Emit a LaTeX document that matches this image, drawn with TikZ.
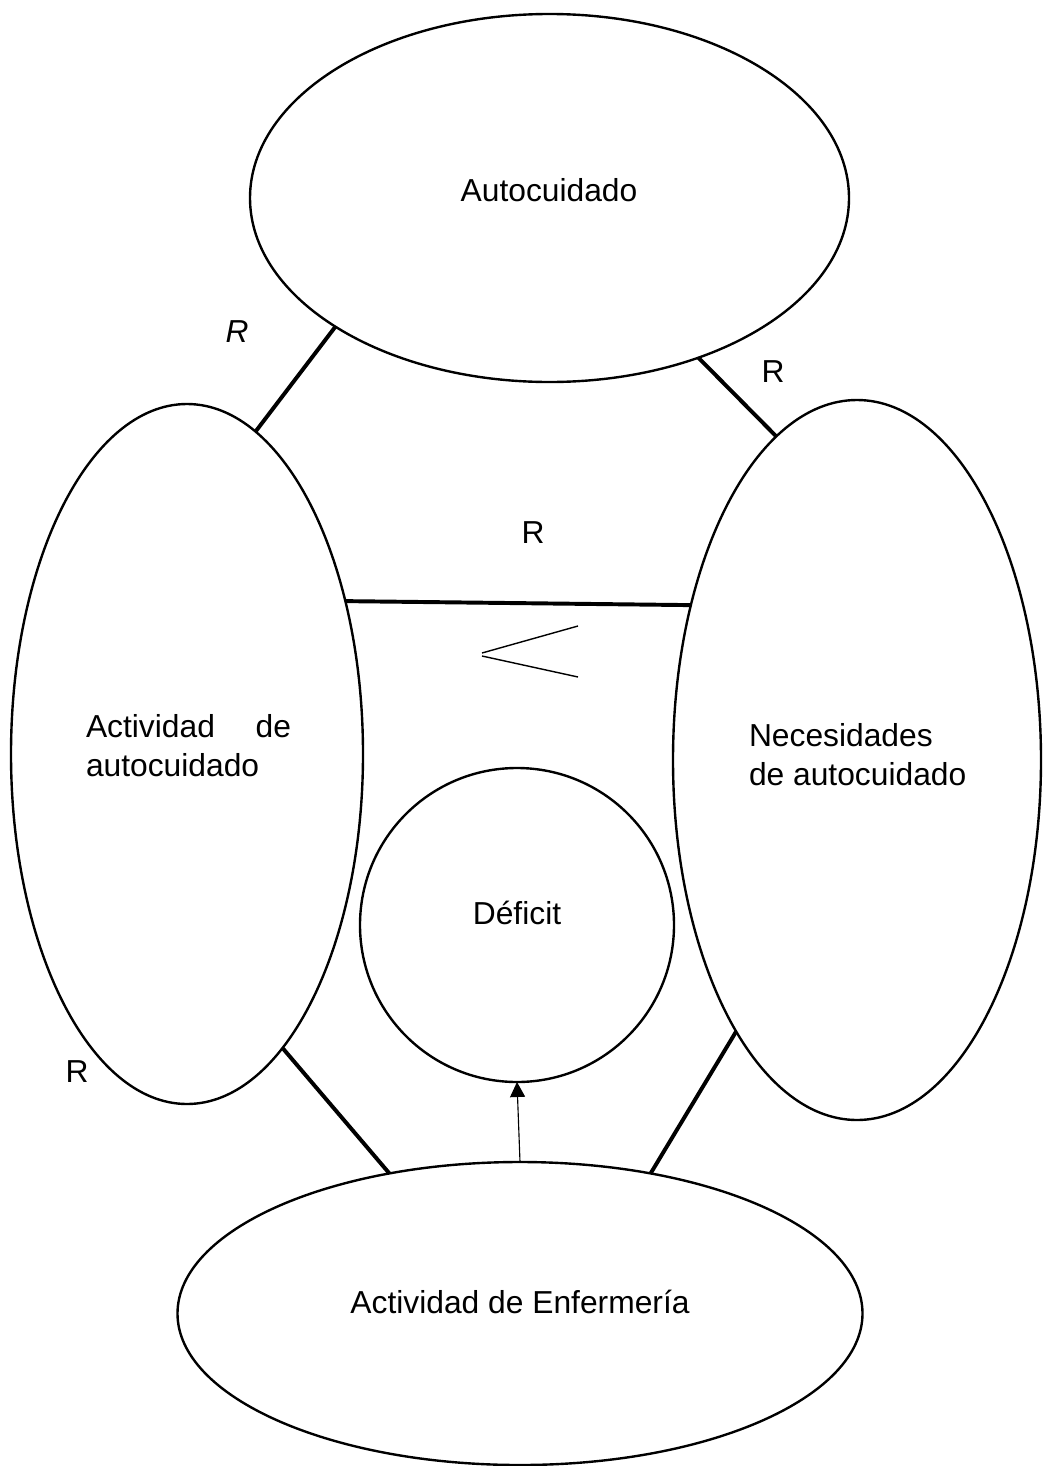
\documentclass[tikz,border=0pt]{standalone}
\usepackage{fontspec}
\setmainfont{Liberation Sans}
\usetikzlibrary{shapes.geometric,arrows.meta}
\def\pxl{0.025cm}

\begin{document}
\begin{tikzpicture}[x=0.025cm, y=-0.025cm,
		every node/.style={inner sep=0pt, outer sep=0pt, font=\fontsize{22.6pt}{28pt}\selectfont},
		oval/.style={draw, ellipse, line width=1.7pt},
		rel/.style={line width=2.8pt},
		txt/.style={align=left}]
			%%%%% START %%%%%
			\useasboundingbox (0, 0) rectangle (1042, 1466);
			
			\node[oval, minimum width=599*\pxl, minimum height=368*\pxl] (auto) at (549.5, 198) {};
			\node[oval, minimum width=352*\pxl, minimum height=700*\pxl] (act) at (187, 754) {};
			\node[oval, minimum width=368*\pxl, minimum height=720*\pxl] (nec) at (857, 760) {};
			\node[oval, minimum width=314*\pxl, minimum height=314*\pxl] (def) at (517, 925) {};
			\node[oval, minimum width=685*\pxl, minimum height=303*\pxl] (enf) at (520, 1313.5) {};
			
			\node[anchor=base] (autotxt) at (549, 201) {Autocuidado};
			\node[txt, anchor=north west, text width=205*\pxl] (acttxt) at (86, 714) {Actividad\hfill de\\autocuidado};
			\node[txt, anchor=north west] (nectxt) at (749, 723) {Necesidades\\de autocuidado};
			\node[anchor=base] (deftxt) at (517, 924) {Déficit};
			\node[anchor=base] (enftxt) at (520, 1313) {Actividad de Enfermería};
			
			\node[anchor=base] (r1) at (237, 342) {\itshape R};
			\node[anchor=base] (r2) at (773, 382) {R};
			\node[anchor=base] (r3) at (533, 543) {R};
			\node[anchor=base] (r4) at (77, 1082) {R};
			
			\draw[rel] (auto.211) -- (act.78);
			\draw[rel] (auto.313) -- (nec.104);
			\draw[rel] (act.44) -- (nec.137);
			\draw[rel] (act.288) -- (enf.133);
			\draw[rel] (nec.246) -- (enf.47);
			
			\draw[line width=0.8pt, -{Triangle[length=15*\pxl, width=15*\pxl]}] (enf.north) -- (def.south);
			
			\draw[line width=1pt] (578, 626) -- (482, 653);
			\draw[line width=1pt] (482, 656) -- (578, 677);
			
			%%%%% END %%%%%
\end{tikzpicture}
\end{document}
